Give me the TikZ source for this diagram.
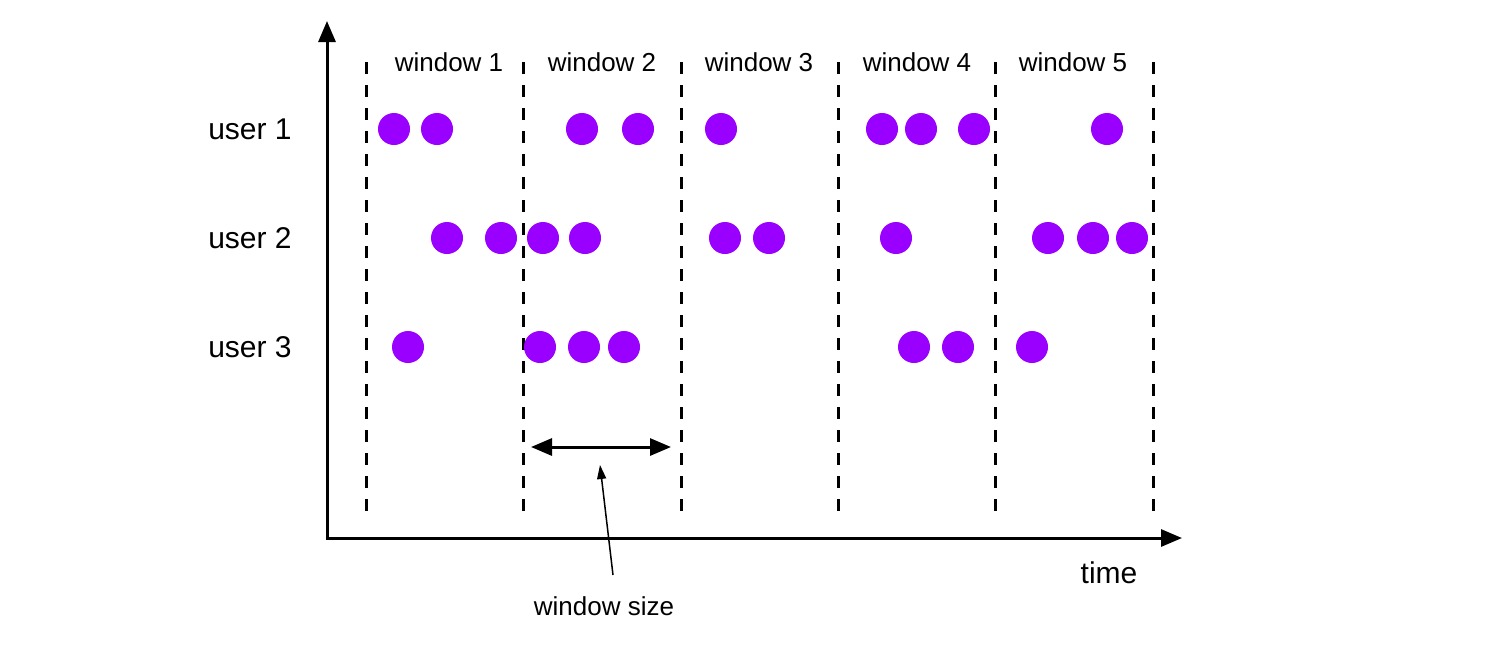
\documentclass[tikz,border=0pt]{standalone}
\usepackage{fontspec}
\setmainfont{Liberation Sans}
\usetikzlibrary{arrows.meta}
\definecolor{dotc}{HTML}{9900FF}
\begin{document}
\begin{tikzpicture}[x=1pt,y=-1pt,
  dot/.style={circle,fill=dotc,minimum size=32pt,inner sep=0pt},
  divider/.style={line width=3pt,dash pattern=on 12pt off 11pt},
  bighead/.style={Triangle[length=21pt,width=17pt]},
  axis/.style={line width=3pt,-{Triangle[length=21pt,width=17pt]}},
  wlabel/.style={font=\fontsize{26}{30}\selectfont},
  ulabel/.style={font=\fontsize{30}{34}\selectfont}]
\useasboundingbox (0,0) rectangle (1491,659);
% axes
\coordinate (o) at (327,538);
\coordinate (ytip) at (327,21);
\coordinate (xtip) at (1182,538);
\draw[axis] (o) -- (ytip);
\draw[axis] ([xshift=-1.5pt]o) -- (xtip);
% dividers
\foreach \x [count=\i] in {366,523,681,838,995,1153} {
  \coordinate (t\i) at (\x,62);
  \coordinate (b\i) at (\x,512);
  \draw[divider] (t\i) -- (b\i);
}
% window labels
\node[wlabel] (w1) at (449,62) {window 1};
\node[wlabel] (w2) at (602,62) {window 2};
\node[wlabel] (w3) at (759,62) {window 3};
\node[wlabel] (w4) at (917,62) {window 4};
\node[wlabel] (w5) at (1073,62) {window 5};
% user labels
\node[ulabel] (u1) at (250,129) {user 1};
\node[ulabel] (u2) at (250,238) {user 2};
\node[ulabel] (u3) at (250,347) {user 3};
% dots
\foreach \x [count=\i] in {394,437,582,638,721,882,921,974,1107}
  \node[dot] (da\i) at (\x,129) {};
\foreach \x [count=\i] in {447,501,543,585,725,769,896,1048,1093,1132}
  \node[dot] (db\i) at (\x,238) {};
\foreach \x [count=\i] in {408,540,584,624,914,958,1032}
  \node[dot] (dc\i) at (\x,347) {};
% window size arrow
\coordinate (wsl) at (531,447);
\coordinate (wsr) at (671,447);
\draw[line width=3pt,{Triangle[length=21pt,width=17pt]}-{Triangle[length=21pt,width=17pt]}] (wsl) -- (wsr);
\node[wlabel] (ws) at (604,606) {window size};
\coordinate (wss) at (613,575);
\coordinate (wst) at (600,465);
\draw[line width=1.5pt,-{Triangle[length=14pt,width=9pt]}] (wss) -- (wst);
\node[ulabel] (time) at (1109,573) {time};
\end{tikzpicture}
\end{document}
